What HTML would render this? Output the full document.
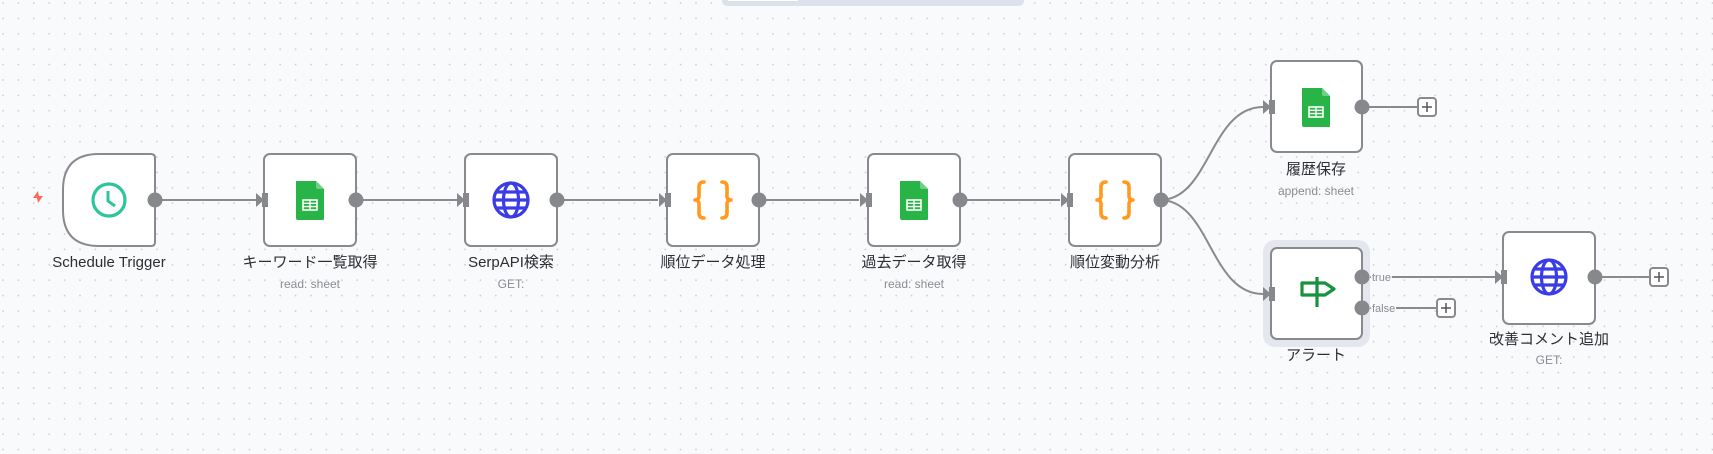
<!DOCTYPE html>
<html><head><meta charset="utf-8"><style>
html,body{margin:0;padding:0;width:1713px;height:454px;overflow:hidden;background:#f9fafc}
svg{display:block}
text{font-family:"Liberation Sans","Noto Sans CJK JP",sans-serif}
.lbl{font-size:15px;fill:#2e2e33;text-anchor:middle}
.sub{font-size:12px;fill:#8a8c92;text-anchor:middle}
.box{fill:#fff;stroke:#8a8a8e;stroke-width:2}
.ln{stroke:#8a8a8e;stroke-width:2;fill:none}
.out{fill:#86888c}
.tf{font-size:11px;fill:#8a8c92;stroke:#f9fafc;stroke-width:3;paint-order:stroke}
</style></head><body>
<svg width="1713" height="454" viewBox="0 0 1713 454" xmlns="http://www.w3.org/2000/svg">
<defs>
<pattern id="g" width="15.4" height="15.4" patternUnits="userSpaceOnUse" x="2" y="2">
<circle cx="1" cy="1" r="0.9" fill="#c9ccd2"/></pattern>
<g id="inp"><path d="M-8,-7 L0,0 L-8,7 Z" fill="#86888c"/><rect x="-2" y="-7" width="6" height="14" fill="#86888c"/></g>
<g id="plus"><rect x="-9" y="-9" width="18" height="18" rx="3" fill="#fff" stroke="#8a8a8e" stroke-width="2"/><path d="M-5,0H5M0,-5V5" stroke="#555" stroke-width="1.5"/></g>
<g id="sheet"><path d="M-14,-19 H6 L14,-11 V19 Q14,20 12,20 H-12 Q-14,20 -14,18 Z" fill="#28b446"/><path d="M6,-19 L14,-11 H8 Q6,-11 6,-13 Z" fill="#6fcf85"/><rect x="-7" y="0" width="14" height="10" fill="none" stroke="#fff" stroke-width="1.6"/><path d="M-7,3.3H7M-7,6.6H7M0,0V10" stroke="#fff" stroke-width="1.4"/></g>
<g id="globe" fill="none" stroke="#3a3ce6" stroke-width="3.2"><circle r="17"/><ellipse rx="7.5" ry="17"/><path d="M-17,0H17M-14,-8H14M-14,8H14"/></g>
<g id="braces" fill="none" stroke="#ff9a1f" stroke-width="3.6" stroke-linecap="round" stroke-linejoin="round">
<path d="M-9,-18 Q-14,-18 -14,-13 V-4 Q-14,0 -18,0 Q-14,0 -14,4 V13 Q-14,18 -9,18"/>
<path d="M9,-18 Q14,-18 14,-13 V-4 Q14,0 18,0 Q14,0 14,4 V13 Q14,18 9,18"/>
</g>
</defs>
<rect width="1713" height="454" fill="url(#g)"/>
<rect x="722" y="-6" width="302" height="12" rx="5" fill="#dde1ea"/>
<rect x="728" y="-2" width="70" height="3" fill="#fff"/>

<path class="ln" d="M155,200H256M356,200H457M557,200H658M758,200H859M959,200H1060"/>
<path class="ln" d="M1160,200 C1210,200 1210,107 1263,107"/>
<path class="ln" d="M1160,200 C1210,200 1210,294 1263,294"/>
<path class="ln" d="M1362,107H1418"/>
<path class="ln" d="M1362,277H1495"/>
<path class="ln" d="M1362,308H1437"/>
<path class="ln" d="M1595,277H1649"/>

<path d="M33,198 l5,-7 l1,5 l4,0 l-5,7 l-1,-5 z" fill="#ff6b5a"/>
<path class="box" d="M99,154 H151 Q155,154 155,158 V242 Q155,246 151,246 H99 Q63,246 63,210 V190 Q63,154 99,154 Z"/>
<circle cx="109" cy="200" r="16" fill="none" stroke="#2ec49c" stroke-width="3.2"/>
<path d="M108,191V201L115,206" fill="none" stroke="#2ec49c" stroke-width="3"/>
<circle class="out" cx="155" cy="200" r="7.5"/>
<text class="lbl" x="109" y="267">Schedule Trigger</text>

<rect class="box" x="264" y="154" width="92" height="92" rx="6"/>
<use href="#sheet" x="310" y="200"/><use href="#inp" x="264" y="200"/><circle class="out" cx="356" cy="200" r="7.5"/>
<text class="lbl" x="310" y="267">キーワード一覧取得</text><text class="sub" x="310" y="288">read: sheet</text>

<rect class="box" x="465" y="154" width="92" height="92" rx="6"/>
<use href="#globe" x="511" y="200"/><use href="#inp" x="465" y="200"/><circle class="out" cx="557" cy="200" r="7.5"/>
<text class="lbl" x="511" y="267">SerpAPI検索</text><text class="sub" x="511" y="288">GET:</text>

<rect class="box" x="667" y="154" width="92" height="92" rx="6"/>
<use href="#braces" x="713" y="200"/><use href="#inp" x="667" y="200"/><circle class="out" cx="759" cy="200" r="7.5"/>
<text class="lbl" x="713" y="267">順位データ処理</text>

<rect class="box" x="868" y="154" width="92" height="92" rx="6"/>
<use href="#sheet" x="914" y="200"/><use href="#inp" x="868" y="200"/><circle class="out" cx="960" cy="200" r="7.5"/>
<text class="lbl" x="914" y="267">過去データ取得</text><text class="sub" x="914" y="288">read: sheet</text>

<rect class="box" x="1069" y="154" width="92" height="92" rx="6"/>
<use href="#braces" x="1115" y="200"/><use href="#inp" x="1069" y="200"/><circle class="out" cx="1161" cy="200" r="7.5"/>
<text class="lbl" x="1115" y="267">順位変動分析</text>

<rect class="box" x="1271" y="61" width="91" height="91" rx="6"/>
<use href="#sheet" x="1316" y="107"/><use href="#inp" x="1271" y="107"/><circle class="out" cx="1362" cy="107" r="7.5"/>
<use href="#plus" x="1427" y="107"/>
<text class="lbl" x="1316" y="174">履歴保存</text><text class="sub" x="1316" y="195">append: sheet</text>

<rect x="1263" y="240" width="107" height="107" rx="12" fill="#e4e7ee"/>
<rect class="box" x="1271" y="248" width="91" height="91" rx="6"/>
<g fill="none" stroke="#17923f" stroke-width="3.2" stroke-linejoin="round"><path d="M1317,277V307"/><path d="M1302,283H1325L1334,289L1325,295H1302Z"/></g>
<use href="#inp" x="1271" y="294"/>
<circle class="out" cx="1362" cy="277" r="7.5"/><circle class="out" cx="1362" cy="308" r="7.5"/>
<text class="tf" x="1372" y="281">true</text>
<text class="tf" x="1372" y="312">false</text>
<use href="#plus" x="1446" y="308"/>
<text class="lbl" x="1316" y="360">アラート</text>

<rect class="box" x="1503" y="232" width="92" height="92" rx="6"/>
<use href="#globe" x="1549" y="277"/><use href="#inp" x="1503" y="277"/><circle class="out" cx="1595" cy="277" r="7.5"/>
<use href="#plus" x="1659" y="277"/>
<text class="lbl" x="1549" y="344">改善コメント追加</text><text class="sub" x="1549" y="364">GET:</text>
</svg>
</body></html>
